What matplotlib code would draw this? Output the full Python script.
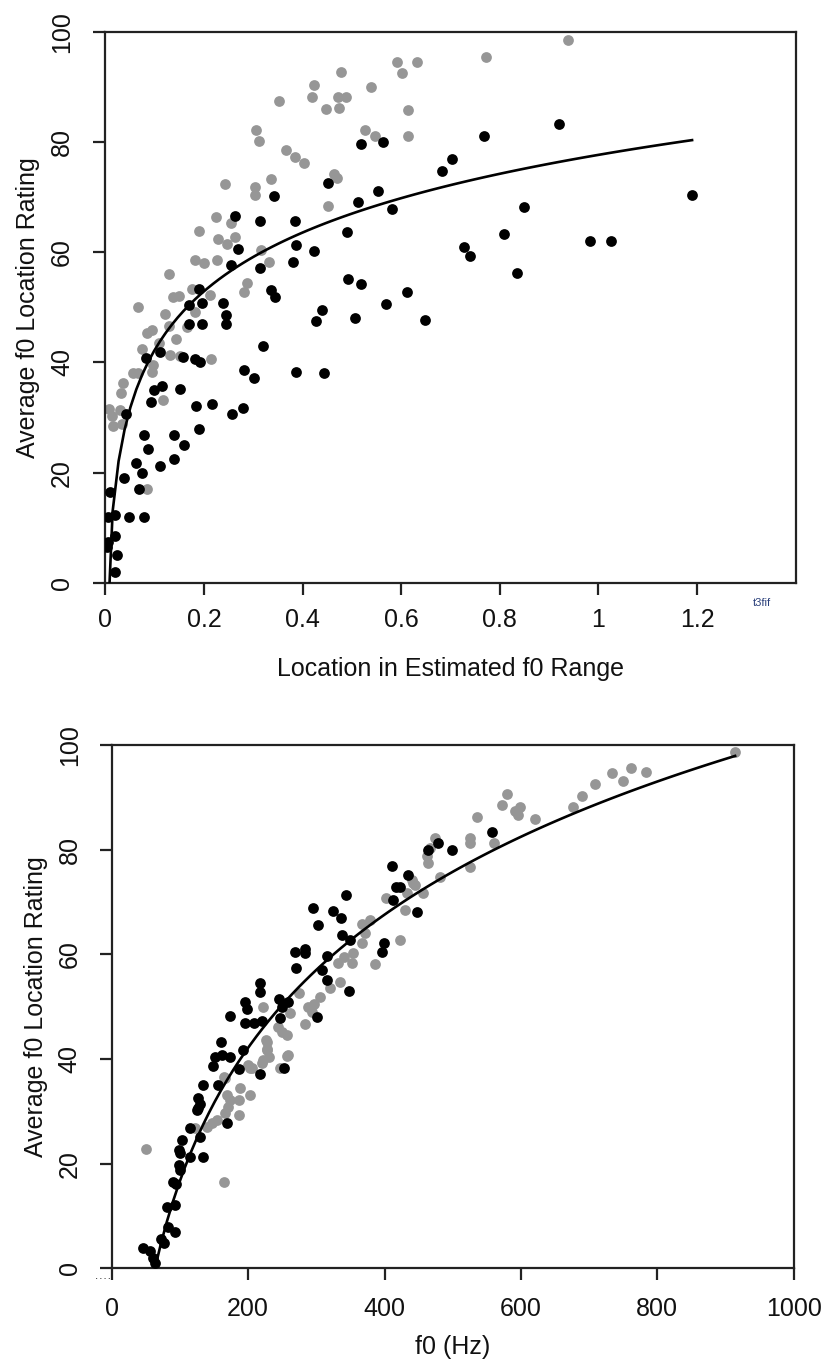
import numpy as np
import matplotlib
matplotlib.use("Agg")
import matplotlib.pyplot as plt

plt.rcParams['font.family'] = ['Liberation Sans', 'DejaVu Sans']

# ---- top panel: location in estimated f0 range ----
top_black_x = [0.921, 0.768, 0.703, 0.683, 1.189, 0.850, 0.808, 0.727, 0.740, 0.982, 1.026, 0.835, 0.612, 0.649,
               0.519, 0.563, 0.452, 0.554, 0.343, 0.513, 0.582, 0.263, 0.314, 0.385, 0.491, 0.269, 0.387, 0.424,
               0.255, 0.380, 0.313, 0.492, 0.519, 0.336, 0.345, 0.570, 0.439, 0.428, 0.507, 0.238, 0.245, 0.245,
               0.170, 0.197, 0.169, 0.197, 0.190, 0.320, 0.282, 0.302, 0.083, 0.111, 0.157, 0.182, 0.192, 0.099,
               0.116, 0.092, 0.152, 0.043, 0.184, 0.217, 0.257, 0.279, 0.191, 0.078, 0.086, 0.140, 0.160, 0.140,
               0.110, 0.062, 0.075, 0.037, 0.068, 0.010, 0.048, 0.079, 0.006, 0.020, 0.020, 0.003, 0.006, 0.023,
               0.020, 0.387, 0.444]
top_black_y = [83.3, 81.2, 76.9, 74.8, 70.5, 68.2, 63.4, 60.9, 59.3, 62.1, 62.1, 56.3, 52.8, 47.8,
               79.7, 80.0, 72.6, 71.2, 70.3, 69.1, 67.9, 66.6, 65.7, 65.7, 63.7, 60.6, 61.3, 60.3,
               57.7, 58.2, 57.2, 55.1, 54.2, 53.1, 51.9, 50.7, 49.6, 47.6, 48.0, 50.8, 48.6, 47.0,
               47.0, 47.0, 50.5, 50.8, 53.3, 42.9, 38.7, 37.2, 40.9, 41.9, 41.0, 40.7, 40.1, 35.0,
               35.7, 32.9, 35.1, 30.6, 32.1, 32.4, 30.7, 31.7, 28.0, 26.8, 24.3, 26.8, 25.0, 22.5,
               21.2, 21.7, 19.9, 19.1, 17.0, 16.5, 12.0, 12.0, 12.0, 12.3, 8.4, 6.5, 7.4, 5.0,
               1.9, 38.3, 38.0]

top_gray_x = [0.938, 0.772, 0.591, 0.633, 0.602, 0.479, 0.424, 0.420, 0.472, 0.489, 0.539, 0.448, 0.475, 0.353,
              0.613, 0.306, 0.312, 0.527, 0.548, 0.613, 0.366, 0.385, 0.402, 0.463, 0.470, 0.242, 0.303, 0.303,
              0.336, 0.452, 0.225, 0.255, 0.191, 0.229, 0.246, 0.263, 0.316, 0.181, 0.201, 0.226, 0.333,
              0.129, 0.067, 0.084, 0.094, 0.121, 0.138, 0.150, 0.175, 0.213, 0.287, 0.282, 0.129, 0.144,
              0.108, 0.074, 0.165, 0.182, 0.131, 0.152, 0.215, 0.097, 0.095, 0.057, 0.067, 0.035, 0.031,
              0.118, 0.008, 0.013, 0.030, 0.033, 0.015, 0.085]
top_gray_y = [98.5, 95.5, 94.5, 94.5, 92.5, 92.7, 90.4, 88.3, 88.3, 88.3, 90.0, 86.0, 86.3, 87.4,
              85.8, 82.2, 80.3, 82.2, 81.2, 81.1, 78.6, 77.4, 76.3, 74.3, 73.5, 72.4, 71.8, 70.4,
              73.3, 68.5, 66.4, 65.4, 63.9, 62.4, 61.6, 62.7, 60.4, 58.6, 58.0, 58.6, 58.2,
              56.1, 50.0, 45.3, 45.9, 48.8, 51.9, 52.1, 53.4, 52.2, 54.4, 52.8, 46.6, 44.2,
              43.6, 42.4, 46.4, 49.2, 41.3, 41.2, 40.6, 39.5, 38.3, 38.1, 38.1, 36.3, 34.4,
              33.2, 31.5, 30.3, 31.4, 28.9, 28.5, 17.0]

# logarithmic trend line y = a + b*ln(x)
top_fit_a, top_fit_b = 77.7, 15.4
top_fit_range = (0.003, 1.19)

# ---- bottom panel: f0 in Hz ----
bot_black_x = [557, 499, 478, 464, 435, 423, 447, 411, 343, 417, 295, 325, 336, 303, 413, 337, 349, 399, 396,
               269, 283, 283, 270, 315, 308, 315, 348, 217, 217, 246, 259, 249, 196, 198, 174, 195, 208, 220,
               301, 247, 160, 151, 161, 173, 149, 193, 217, 187, 134, 156, 127, 129, 127, 125, 169, 115, 129,
               103, 98, 100, 134, 115, 98, 100, 95, 90, 81, 93, 83, 93, 73, 76, 46, 56, 61, 64, 252]
bot_black_y = [83.3, 79.9, 81.2, 79.9, 75.2, 72.9, 68.0, 76.9, 71.3, 72.9, 68.8, 68.3, 66.9, 65.7, 70.4, 63.7,
               62.7, 62.1, 60.5, 60.5, 61.1, 60.2, 57.4, 59.7, 57.0, 55.1, 53.0, 54.5, 52.9, 51.4, 50.9, 50.0,
               50.9, 49.5, 48.3, 46.9, 46.9, 47.3, 48.0, 47.8, 43.2, 40.4, 40.8, 40.4, 38.7, 41.8, 37.1, 38.0,
               35.0, 35.0, 32.5, 31.5, 30.6, 30.3, 27.8, 26.8, 25.1, 24.5, 22.6, 22.0, 21.3, 21.3, 19.7, 18.8,
               16.2, 16.5, 11.8, 12.1, 7.9, 7.0, 5.7, 4.8, 3.8, 3.4, 1.9, 1.0, 38.2]

bot_gray_x = [914, 762, 784, 733, 749, 709, 689, 579, 572, 599, 591, 596, 677, 621, 536, 525, 525, 560, 474,
              467, 462, 464, 525, 481, 440, 445, 433, 457, 430, 423, 442, 402, 367, 379, 371, 367, 354, 386,
              353, 340, 332, 335, 320, 305, 296, 288, 293, 261, 274, 222, 283, 244, 249, 257, 226, 228, 230,
              257, 220, 200, 205, 247, 164, 51, 164, 122, 147, 154, 139, 166, 171, 173, 169, 186, 186, 188,
              203, 203, 227, 222, 227, 259, 166]
bot_gray_y = [98.7, 95.7, 94.9, 94.7, 93.1, 92.5, 90.3, 90.6, 88.5, 88.2, 87.3, 86.6, 88.1, 85.9, 86.2, 82.2,
              81.2, 81.2, 82.2, 80.3, 78.7, 77.4, 76.6, 74.8, 74.2, 73.3, 71.7, 71.7, 68.5, 62.7, 73.6, 70.7,
              65.8, 66.6, 64.0, 62.1, 60.2, 58.2, 58.3, 59.5, 58.3, 54.8, 53.5, 51.9, 50.6, 50.0, 49.0, 48.7,
              52.7, 50.0, 46.7, 46.2, 45.2, 44.6, 43.6, 42.0, 40.4, 40.6, 39.2, 38.8, 38.2, 38.2, 36.6, 22.9,
              16.5, 26.8, 27.7, 28.3, 27.1, 29.6, 30.9, 32.2, 33.1, 32.2, 29.3, 34.4, 33.1, 38.2, 41.7, 39.8,
              43.3, 40.8, 36.3]

bot_fit_a, bot_fit_b = -152.3, 36.7
bot_fit_range = (46, 914)

top_xticks = [0, 0.2, 0.4, 0.6, 0.8, 1, 1.2]
top_xticklabels = ["0", "0.2", "0.4", "0.6", "0.8", "1", "1.2"]
bot_xticks = [0, 200, 400, 600, 800, 1000]
y_ticks = [0, 20, 40, 60, 80, 100]

GRAY = '#969696'
FS = 18
MS = 60


def style_axes(ax, xpad, ypad):
    for sp in ax.spines.values():
        sp.set_linewidth(1.6)
        sp.set_color('#222222')
    ax.tick_params(direction='out', length=8.5, width=1.6, color='#222222',
                   labelsize=FS, labelcolor='#111111')
    ax.tick_params(axis='x', pad=xpad)
    ax.tick_params(axis='y', pad=ypad)
    ax.set_yticks(y_ticks)
    ax.set_yticklabels([str(v) for v in y_ticks], rotation=90, va='center')
    ax.set_ylim(0, 100)


fig = plt.figure(figsize=(8.25, 13.65), dpi=100)

# top
ax1 = fig.add_axes([0.1276, 0.5731, 0.8368, 0.4034])
ax1.scatter(top_gray_x, top_gray_y, s=MS, color=GRAY, linewidths=0, zorder=2)
ax1.scatter(top_black_x, top_black_y, s=MS, color='black', linewidths=0, zorder=3)
tx = np.linspace(top_fit_range[0], top_fit_range[1], 100)
ax1.plot(tx, top_fit_a + top_fit_b * np.log(tx), color='black', lw=1.9, zorder=4)
ax1.set_xlim(0, 1.4)
ax1.set_xticks(top_xticks)
ax1.set_xticklabels(top_xticklabels)
style_axes(ax1, 10, 14)
ax1.set_ylabel("Average f0 Location Rating", fontsize=FS, color='#111111')
ax1.yaxis.set_label_coords(-0.094, 0.5)
ax1.set_xlabel("Location in Estimated f0 Range", fontsize=FS, color='#111111')
ax1.xaxis.set_label_coords(0.5, -0.135)

# bottom
ax2 = fig.add_axes([0.1354, 0.0708, 0.8267, 0.3834])
ax2.scatter(bot_gray_x, bot_gray_y, s=MS, color=GRAY, linewidths=0, zorder=2)
ax2.scatter(bot_black_x, bot_black_y, s=MS, color='black', linewidths=0, zorder=3)
bx = np.linspace(bot_fit_range[0], bot_fit_range[1], 100)
ax2.plot(bx, bot_fit_a + bot_fit_b * np.log(bx), color='black', lw=1.9, zorder=4)
ax2.set_xlim(0, 1000)
ax2.set_xticks(bot_xticks)
ax2.set_xticklabels([str(v) for v in bot_xticks])
style_axes(ax2, 12, 13)
ax2.set_ylabel("Average f0 Location Rating", fontsize=FS, color='#111111')
ax2.yaxis.set_label_coords(-0.094, 0.5)
ax2.set_xlabel("f0 (Hz)", fontsize=FS, color='#111111')
ax2.xaxis.set_label_coords(0.5, -0.1275)

# small stray marks in the original
fig.text(762 / 825, 1 - 603 / 1365, "t3fif", fontsize=8, color='#2a3f7a', ha='center', va='center')
fig.text(104 / 825, 1 - 1284 / 1365, "\u02d9\u02d9\u02d9\u02d9", fontsize=9, color='#333333', ha='center', va='center')

fig.savefig("out.png", dpi=100)
plt.close()
